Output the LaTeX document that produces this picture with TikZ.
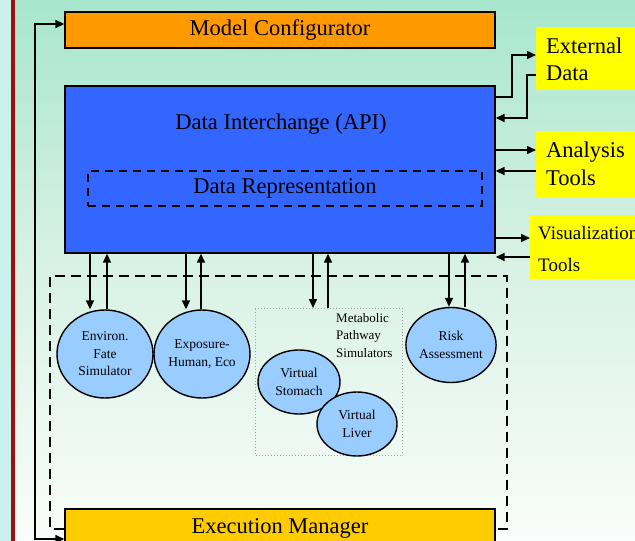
\documentclass[tikz,border=0pt]{standalone}
\usepackage{fontspec}
\setmainfont{Liberation Serif}
\usetikzlibrary{shapes.geometric,arrows.meta}
\definecolor{bgtop}{HTML}{A8E6CD}
\definecolor{bgmid}{HTML}{D6F1E3}
\definecolor{bgbot}{HTML}{FAFDFB}
\definecolor{strip}{HTML}{C9F0EB}
\definecolor{redline}{HTML}{9E1010}
\definecolor{mcorange}{HTML}{FF9900}
\definecolor{diblue}{HTML}{3366FF}
\definecolor{ylw}{HTML}{FFFF00}
\definecolor{emyellow}{HTML}{FFCC00}
\definecolor{ellblue}{HTML}{99CCFF}
\tikzset{
  bigbox/.style={draw=black,line width=1.4pt,minimum width=430pt,inner sep=0pt,font=\fontsize{22.5}{27}\selectfont},
  sidebox/.style={fill=ylw,anchor=north west,inner sep=0pt,minimum width=110pt},
  sidetext/.style={anchor=west,align=left,inner sep=0pt,font=\fontsize{22.5}{27.5}\selectfont},
  ell/.style={ellipse,draw=black,line width=1.4pt,fill=ellblue,inner sep=0pt,align=center,font=\fontsize{13.5}{17.5}\selectfont},
  arr/.style={line width=1.5pt,-{Triangle[length=9pt,width=8pt]}},
  darr/.style={line width=1.5pt,{Triangle[length=9pt,width=8pt]}-{Triangle[length=9pt,width=8pt]}},
  dashline/.style={line width=1.5pt,dash pattern=on 10pt off 6pt},
}
\begin{document}
\begin{tikzpicture}[x=1pt,y=-1pt]
\useasboundingbox (0,0) rectangle (635,541);
% background
\shade[top color=bgtop,bottom color=bgmid] (11,0) rectangle (635,250);
\shade[top color=bgmid,bottom color=bgbot] (11,249.5) rectangle (635,541);
\fill[strip] (0,0) rectangle (11,541);
\fill[redline] (11,0) rectangle (15,541);
% main boxes
\node[bigbox,fill=mcorange,minimum height=36pt] (mc) at (280,30) {Model Configurator};
\node[bigbox,fill=diblue,minimum height=167pt] (di) at (280,169.5) {};
\node[inner sep=0pt,font=\fontsize{22.5}{27}\selectfont] (dilabel) at (281,124) {Data Interchange (API)};
\node[draw=black,line width=1.5pt,dash pattern=on 8pt off 6pt,minimum width=394pt,minimum height=35pt,inner sep=0pt,font=\fontsize{22.5}{27}\selectfont] (dr) at (285,188.5) {Data Representation};
\node[bigbox,fill=emyellow,minimum height=38pt] (em) at (280,528) {Execution Manager};
% side boxes
\node[sidebox,minimum height=63pt] (ext) at (536,27) {};
\node[sidetext] (exttext) at (546,59.5) {External\\Data};
\node[sidebox,minimum height=66pt] (ana) at (536,131) {};
\node[sidetext] (anatext) at (546,164) {Analysis\\Tools};
\node[sidebox,minimum height=64pt,minimum width=120pt] (vis) at (530,215) {};
\node[sidetext,font=\fontsize{19}{32}\selectfont] (vistext) at (538,249) {Visualization\\Tools};
% side arrows
\draw[arr] (di.east |- 0,97) -| (512,55) -- (ext.west |- 0,55);
\draw[arr] (ext.west |- 0,75) -| (527,118) -- (di.east |- 0,118);
\draw[arr] (di.east |- 0,150) -- (ana.west |- 0,150);
\draw[arr] (ana.west |- 0,171) -- (di.east |- 0,171);
\draw[arr] (di.east |- 0,238) -- (vis.west |- 0,238);
\draw[arr] (vis.west |- 0,257) -- (di.east |- 0,257);
% dashed system box
\draw[dashline] (em.west |- 0,529) -- (50,529) -- (50,276) -- (507,276) -- (507,529) -- (em.east |- 0,529);
% left feedback
\draw[darr] (em.west |- 0,539) -- (35,539) -- (35,24) -- (mc.west |- 0,24);
% metabolic box
\node[draw=gray!70,dotted,line width=1pt,minimum width=147pt,minimum height=147pt,inner sep=0pt,anchor=north west] (met) at (255,308) {};
\node[anchor=north west,align=left,inner sep=0pt,font=\fontsize{13}{17.5}\selectfont] (mettext) at (336,313) {Metabolic\\Pathway\\Simulators};
% ellipses
\node[ell,minimum width=96pt,minimum height=88pt] (env) at (105,354) {Environ.\\Fate\\Simulator};
\node[ell,minimum width=96pt,minimum height=88pt] (exp) at (202,354) {Exposure-\\Human, Eco};
\node[ell,minimum width=82pt,minimum height=64pt] (sto) at (299,382) {Virtual\\Stomach};
\node[ell,minimum width=80pt,minimum height=64pt] (liv) at (357,424) {Virtual\\Liver};
\node[ell,minimum width=90pt,minimum height=75pt] (risk) at (451,345) {Risk\\Assessment};
% vertical arrows
\draw[arr] (di.south -| 90,0) -- (env.north -| 90,0);
\draw[arr] (env.north -| 107,0) -- (di.south -| 107,0);
\draw[arr] (di.south -| 186,0) -- (exp.north -| 186,0);
\draw[arr] (exp.north -| 201,0) -- (di.south -| 201,0);
\draw[arr] (di.south -| 313,0) -- (met.north -| 313,0);
\draw[arr] (met.north -| 328,0) -- (di.south -| 328,0);
\draw[arr] (di.south -| 449,0) -- (risk.north -| 449,0);
\draw[arr] (risk.north -| 465,0) -- (di.south -| 465,0);
\end{tikzpicture}
\end{document}
